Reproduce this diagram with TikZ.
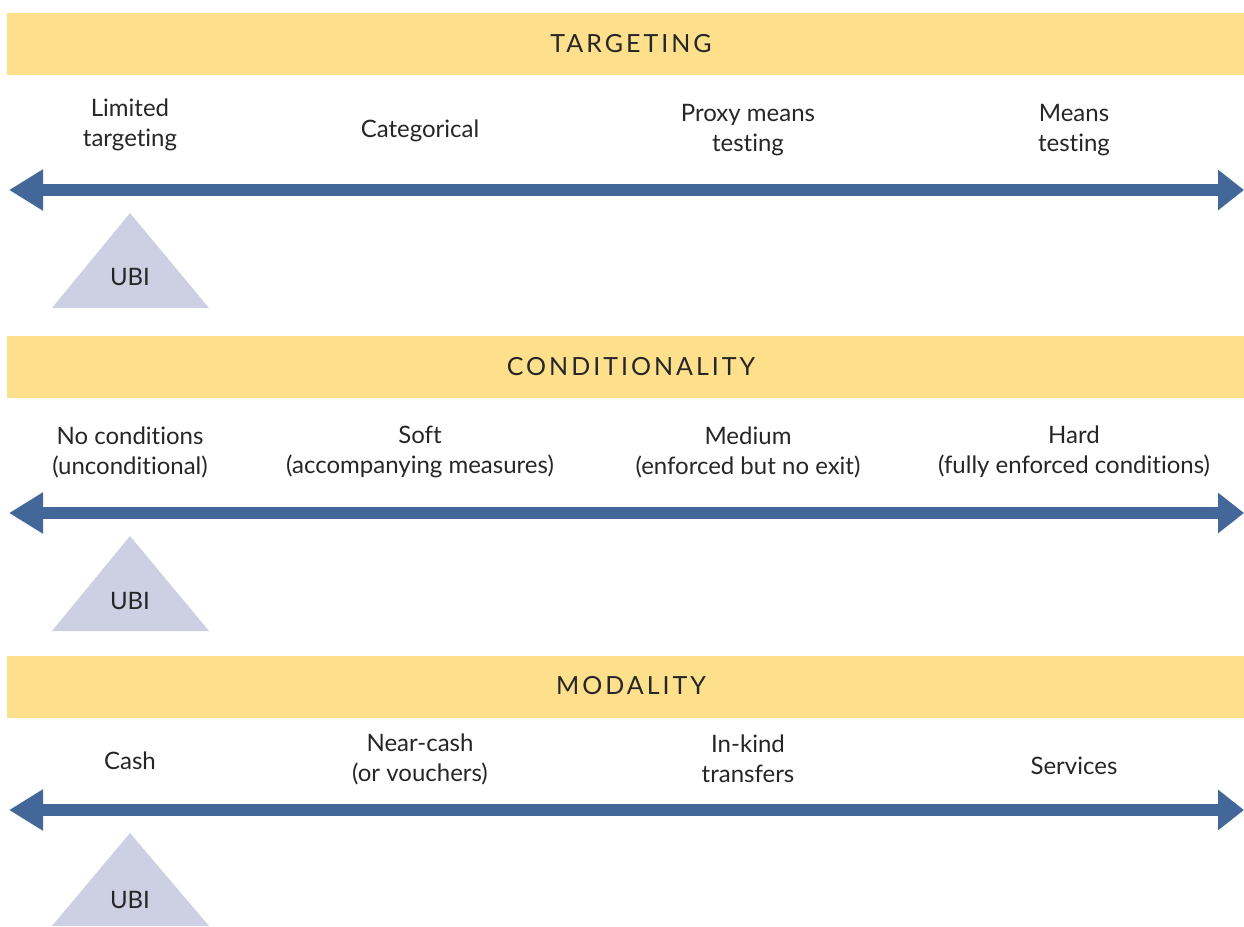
\documentclass[tikz,border=0pt]{standalone}
\usepackage{fontspec}
\setmainfont{Lato}[Ligatures={NoCommon}]
\newfontfamily\bandfont[LetterSpace=12]{Lato}
\usetikzlibrary{arrows.meta}
\definecolor{bandyellow}{HTML}{FDDF8C}
\definecolor{axisblue}{HTML}{44679A}
\definecolor{ubigrey}{HTML}{CDD0E2}
\tikzset{band/.style={fill=bandyellow,draw=none},
	bandtitle/.style={font=\bandfont\fontsize{25}{28}\selectfont,text=black!85},
	choice/.style={font=\fontsize{24}{30}\selectfont,align=center,text=black!85,inner sep=0pt},
	axis/.style={axisblue,line width=12pt,{Triangle[length=34pt,width=39pt]}-{Triangle[length=26pt,width=39pt]}},
	ubi/.style={fill=ubigrey,draw=none},
	ubilabel/.style={font=\fontsize{24}{28}\selectfont,text=black!85}}

\begin{document}
\begin{tikzpicture}[x=1pt,y=-1pt]
				      \useasboundingbox (0,0) rectangle (1244,926);

				      % targeting
				      \fill[band] (7,13) rectangle (1244,75);
				      \node[bandtitle] (T) at (631,44) {TARGETING};
				      \node[choice] (T1) at (130,125) {Limited\\targeting};
				      \node[choice] (T2) at (420,131) {Categorical};
				      \node[choice] (T3) at (748,130) {Proxy means\\testing};
				      \node[choice] (T4) at (1074,130) {Means\\testing};
				      \coordinate (TL) at (9,190);
				      \coordinate (TR) at (1244,190);
				      \path [axis] (TL) edge (TR);
				      \fill[ubi] (130,213) -- (52,308) -- (209,308) -- cycle;
				      \node[ubilabel] (TU) at (130,277) {UBI};

				      % conditionality
				      \fill[band] (7,336) rectangle (1244,398);
				      \node[bandtitle] (C) at (631,367) {CONDITIONALITY};
				      \node[choice] (C1) at (130,452) {No conditions\\(unconditional)};
				      \node[choice] (C2) at (420,452) {Soft\\(accompanying measures)};
				      \node[choice] (C3) at (748,452) {Medium\\(enforced but no exit)};
				      \node[choice] (C4) at (1074,452) {Hard\\(fully enforced conditions)};
				      \coordinate (CL) at (9,513);
				      \coordinate (CR) at (1244,513);
				      \path [axis] (CL) edge (CR);
				      \fill[ubi] (130,536) -- (52,631) -- (209,631) -- cycle;
				      \node[ubilabel] (CU) at (130,601) {UBI};

				      % modality
				      \fill[band] (7,656) rectangle (1244,718);
				      \node[bandtitle] (M) at (631,686) {MODALITY};
				      \node[choice] (M1) at (130,761) {Cash};
				      \node[choice] (M2) at (420,759) {Near-cash\\(or vouchers)};
				      \node[choice] (M3) at (748,759) {In-kind\\transfers};
				      \node[choice] (M4) at (1074,766) {Services};
				      \coordinate (ML) at (9,810);
				      \coordinate (MR) at (1244,810);
				      \path [axis] (ML) edge (MR);
				      \fill[ubi] (130,833) -- (52,926) -- (209,926) -- cycle;
				      \node[ubilabel] (MU) at (130,900) {UBI};
\end{tikzpicture}
\end{document}
